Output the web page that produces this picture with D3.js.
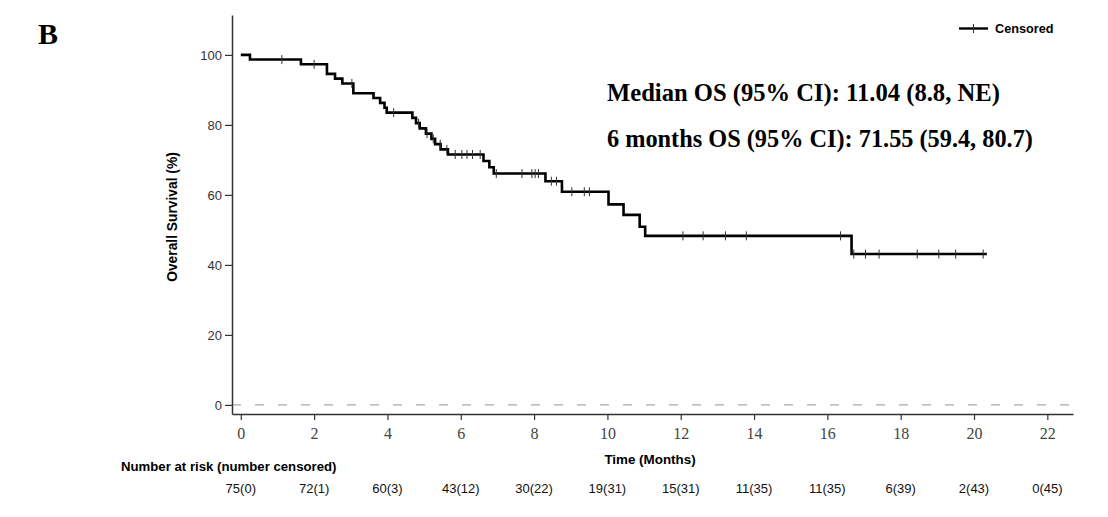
<!DOCTYPE html>
<html>
<head>
<meta charset="utf-8">
<script src="https://cdn.jsdelivr.net/npm/d3@7"></script>
<style>
  body { margin: 0; background: #fff; }
  svg { display: block; }
</style>
</head>
<body>
<script>
var width = 1108;
var height = 517;

// step points of the KM curve (time in months, survival %)
var stepTimes = [0, 0.25, 1.64, 2.35, 2.57, 2.77, 3.07, 3.62, 3.80, 3.92, 3.98,
  4.68, 4.78, 4.88, 5.05, 5.20, 5.30, 5.45, 5.65, 6.62, 6.78, 6.90,
  8.31, 8.76, 10.03, 10.44, 10.88, 11.03, 16.66];
var stepSurv = [100, 98.67, 97.32, 94.58, 93.21, 91.84, 89.06, 87.67, 86.28, 84.89, 83.5,
  82.0, 80.5, 79.0, 77.5, 76.0, 74.5, 73.0, 71.55, 69.7, 67.9, 66.1,
  63.9, 60.9, 57.3, 54.3, 50.9, 48.3, 43.1];
var endTime = 20.35;

// censored times
var censorTimes = [1.12, 2.0, 3.03, 4.17, 4.85, 5.08, 5.25, 5.44, 5.62, 5.85,
  6.03, 6.17, 6.32, 6.53, 6.97, 7.67, 7.94, 8.03, 8.12, 8.47, 8.61,
  9.03, 9.37, 9.51, 12.06, 12.61, 13.22, 13.79, 16.36, 16.72, 17.04,
  17.41, 18.45, 19.04, 19.5, 20.25];

// risk table
var riskTimes = [0, 2, 4, 6, 8, 10, 12, 14, 16, 18, 20, 22];
var atRisk = [75, 72, 60, 43, 30, 19, 15, 11, 11, 6, 2, 0];
var nCensored = [0, 1, 3, 12, 22, 31, 31, 35, 35, 39, 43, 45];

var yTicks = [0, 20, 40, 60, 80, 100];

var sans = "'Liberation Sans', Arial, sans-serif";
var serif = "'Liberation Serif', 'Times New Roman', serif";

var svg = d3.select("body").append("svg")
  .attr("width", width)
  .attr("height", height);

var x = d3.scaleLinear().domain([-0.24, 22.7]).range([232, 1073]);
var y = d3.scaleLinear().domain([-2.6, 111.4]).range([414, 15]);

// panel letter
svg.append("text")
  .attr("x", 38).attr("y", 44)
  .attr("font-family", serif).attr("font-weight", "bold")
  .attr("font-size", 30)
  .text("B");

// reference line at 0
svg.append("line")
  .attr("x1", 232).attr("x2", 1073)
  .attr("y1", y(0)).attr("y2", y(0))
  .attr("stroke", "#aaa").attr("stroke-width", 1.2)
  .attr("stroke-dasharray", "9,14");

// y axis
var yAxis = svg.append("g")
  .attr("transform", "translate(232,0)")
  .call(d3.axisLeft(y).tickValues(yTicks).tickSize(7).tickSizeOuter(0).tickPadding(3));
yAxis.select(".domain").attr("stroke", "#333").attr("stroke-width", 1.5);
yAxis.selectAll(".tick line").attr("stroke", "#333").attr("stroke-width", 1.2);
yAxis.selectAll(".tick text")
  .attr("font-family", sans).attr("font-size", 13).attr("fill", "#333");

// x axis
var xAxis = svg.append("g")
  .attr("transform", "translate(0,414)")
  .call(d3.axisBottom(x).tickValues(riskTimes).tickSize(6).tickSizeOuter(0).tickPadding(8));
xAxis.select(".domain").attr("stroke", "#333").attr("stroke-width", 1.5);
xAxis.selectAll(".tick line").attr("stroke", "#333").attr("stroke-width", 1.2);
xAxis.selectAll(".tick text")
  .attr("font-family", serif).attr("font-size", 16).attr("fill", "#444");

// axis titles
svg.append("text")
  .attr("transform", "translate(177,217) rotate(-90)")
  .attr("text-anchor", "middle")
  .attr("font-family", sans).attr("font-weight", "bold").attr("font-size", 13.8)
  .text("Overall Survival (%)");

svg.append("text")
  .attr("x", 650).attr("y", 464)
  .attr("text-anchor", "middle")
  .attr("font-family", sans).attr("font-weight", "bold").attr("font-size", 13.4)
  .text("Time (Months)");

// KM curve
var pts = stepTimes.map(function(t, i) { return [t, stepSurv[i]]; });
pts.push([endTime, stepSurv[stepSurv.length - 1]]);

var line = d3.line()
  .x(function(d) { return x(d[0]); })
  .y(function(d) { return y(d[1]); })
  .curve(d3.curveStepAfter);

svg.append("path")
  .datum(pts)
  .attr("d", line)
  .attr("fill", "none")
  .attr("stroke", "#000")
  .attr("stroke-width", 2.6);

function survAt(t) {
  var i = d3.bisectRight(stepTimes, t) - 1;
  return stepSurv[Math.max(i, 0)];
}

svg.selectAll(".censor")
  .data(censorTimes)
  .enter()
  .append("line")
  .attr("class", "censor")
  .attr("x1", function(d) { return x(d); })
  .attr("x2", function(d) { return x(d); })
  .attr("y1", function(d) { return y(survAt(d)) - 4.5; })
  .attr("y2", function(d) { return y(survAt(d)) + 4.5; })
  .attr("stroke", "#333")
  .attr("stroke-width", 1);

// legend
var lg = svg.append("g");
lg.append("line")
  .attr("x1", 959).attr("x2", 988).attr("y1", 28.5).attr("y2", 28.5)
  .attr("stroke", "#000").attr("stroke-width", 2.4);
lg.append("line")
  .attr("x1", 973.5).attr("x2", 973.5).attr("y1", 24).attr("y2", 33)
  .attr("stroke", "#333").attr("stroke-width", 1);
lg.append("text")
  .attr("x", 995).attr("y", 33)
  .attr("font-family", sans).attr("font-weight", "bold").attr("font-size", 12.7)
  .text("Censored");

// annotations
svg.append("text")
  .attr("x", 607).attr("y", 101)
  .attr("font-family", serif).attr("font-weight", "bold").attr("font-size", 24.6)
  .text("Median OS (95% CI): 11.04 (8.8, NE)");
svg.append("text")
  .attr("x", 607).attr("y", 147)
  .attr("font-family", serif).attr("font-weight", "bold").attr("font-size", 24.3)
  .text("6 months OS (95% CI): 71.55 (59.4, 80.7)");

// risk table
svg.append("text")
  .attr("x", 121).attr("y", 471)
  .attr("font-family", sans).attr("font-weight", "bold").attr("font-size", 13.2)
  .text("Number at risk (number censored)");

svg.selectAll(".risk")
  .data(riskTimes)
  .enter()
  .append("text")
  .attr("class", "risk")
  .attr("x", function(d) { return x(d); })
  .attr("y", 493)
  .attr("text-anchor", "middle")
  .attr("font-family", sans).attr("font-size", 13).attr("fill", "#111")
  .text(function(d, i) { return atRisk[i] + "(" + nCensored[i] + ")"; });
</script>
</body>
</html>
